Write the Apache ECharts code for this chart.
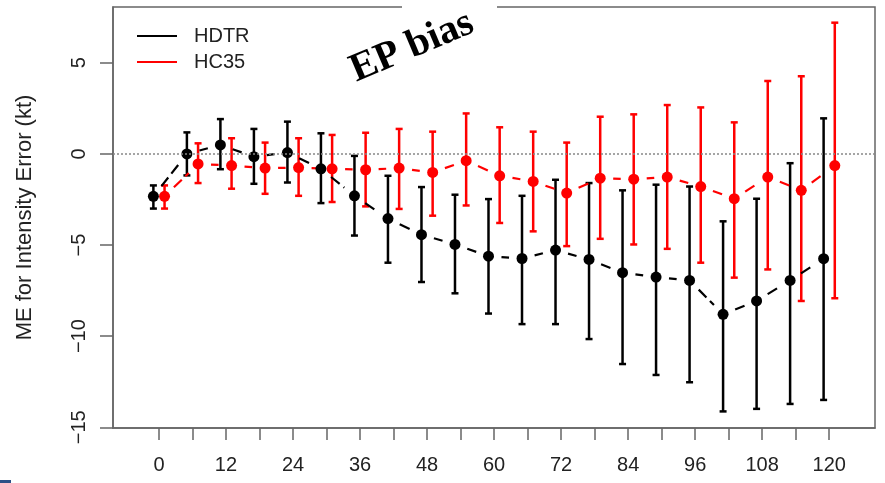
<!doctype html>
<html lang="en">
<head>
<meta charset="utf-8"/>
<title>EP bias</title>
<style>
  html, body { margin: 0; padding: 0; background: #fff; }
  #chart { width: 885px; height: 483px; }
</style>
</head>
<body>
<div id="chart"></div>
<script src="https://cdn.jsdelivr.net/npm/echarts@6/dist/echarts.min.js"></script>
<script>
// forecast lead (h)
const leads = [0, 6, 12, 18, 24, 30, 36, 42, 48, 54, 60, 66, 72, 78, 84, 90, 96, 102, 108, 114, 120];

const hdtrMean = [-2.33, 0.0, 0.49, -0.15, 0.07, -0.82, -2.3, -3.55, -4.43, -4.97, -5.61,
  -5.74, -5.28, -5.79, -6.52, -6.76, -6.94, -8.8, -8.07, -6.94, -5.75];
const hdtrLow = [-3.0, -1.18, -0.84, -1.64, -1.57, -2.7, -4.48, -5.97, -7.03, -7.65, -8.76,
  -9.34, -9.34, -10.16, -11.53, -12.13, -12.53, -14.13, -13.99, -13.72, -13.5];
const hdtrHigh = [-1.73, 1.18, 1.91, 1.37, 1.77, 1.13, -0.11, -1.2, -1.82, -2.24, -2.48,
  -2.3, -1.42, -1.6, -2.0, -1.69, -1.79, -3.7, -2.46, -0.51, 1.95];

const hc35Mean = [-2.33, -0.55, -0.64, -0.78, -0.75, -0.82, -0.87, -0.78, -1.02, -0.37, -1.2,
  -1.51, -2.15, -1.33, -1.39, -1.27, -1.79, -2.46, -1.27, -2.0, -0.64];
const hc35Low = [-3.0, -1.6, -1.91, -2.19, -2.3, -2.64, -2.88, -3.02, -3.39, -2.83, -3.79,
  -4.25, -5.06, -4.66, -4.97, -5.21, -5.97, -6.79, -6.34, -8.07, -7.92];
const hc35High = [-1.73, 0.58, 0.86, 0.62, 0.86, 1.04, 1.16, 1.37, 1.22, 2.22, 1.46,
  1.22, 0.62, 2.04, 2.17, 2.68, 2.55, 1.73, 4.0, 4.26, 7.2];

const xTicks = [0, 6, 12, 18, 24, 30, 36, 42, 48, 54, 60, 66, 72, 78, 84, 90, 96, 102, 108, 114, 120];
const xLabels = [0, 12, 24, 36, 48, 60, 72, 84, 96, 108, 120];
const yTicks = [-15, -10, -5, 0, 5];

const SANS = '"Liberation Sans", Arial, sans-serif';
const AXIS_GREY = '#666';

// the two models are drawn side by side around each lead
const JITTER = 1;

function buildSeries(name, color, shift, mean, low, high) {
  const xs = leads.map(l => l + shift);
  const pts = xs.map((x, i) => [x, mean[i]]);
  const segs = [];
  for (let i = 0; i < pts.length - 1; i++) segs.push([pts[i][0], pts[i][1], pts[i + 1][0], pts[i + 1][1]]);
  const bars = xs.map((x, i) => [x, low[i], high[i]]);
  return [
    {
      // R type="b": dashed segments that stop short of the points
      name, type: 'custom', data: segs, z: 3,
      renderItem(params, api) {
        const a = api.coord([api.value(0), api.value(1)]);
        const b = api.coord([api.value(2), api.value(3)]);
        const dx = b[0] - a[0], dy = b[1] - a[1];
        const len = Math.hypot(dx, dy);
        const gap = 13;
        if (len <= gap * 2) return null;
        const ux = dx / len, uy = dy / len;
        return {
          type: 'line',
          shape: { x1: a[0] + ux * gap, y1: a[1] + uy * gap, x2: b[0] - ux * gap, y2: b[1] - uy * gap },
          style: { stroke: color, lineWidth: 2.2, lineDash: [11, 5] }
        };
      }
    },
    {
      name, type: 'custom', data: bars, z: 2,
      renderItem(params, api) {
        const lo = api.coord([api.value(0), api.value(1)]);
        const hi = api.coord([api.value(0), api.value(2)]);
        const cap = 3.5;
        const st = { stroke: color, lineWidth: 2.5 };
        return {
          type: 'group',
          children: [
            { type: 'line', shape: { x1: lo[0], y1: lo[1], x2: hi[0], y2: hi[1] }, style: st },
            { type: 'line', shape: { x1: lo[0] - cap, y1: lo[1], x2: lo[0] + cap, y2: lo[1] }, style: st },
            { type: 'line', shape: { x1: hi[0] - cap, y1: hi[1], x2: hi[0] + cap, y2: hi[1] }, style: st }
          ]
        };
      }
    },
    {
      name, type: 'scatter', data: pts, z: 4,
      symbol: 'circle', symbolSize: 11,
      itemStyle: { color, opacity: 1 }
    }
  ];
}

const chart = echarts.init(document.getElementById('chart'), null, { renderer: 'canvas' });

chart.setOption({
  animation: false,
  backgroundColor: '#fff',
  textStyle: { fontFamily: SANS },
  grid: {
    left: 113, right: 10, top: 7, bottom: 55,
    show: true, borderColor: AXIS_GREY, borderWidth: 1.5, backgroundColor: 'transparent'
  },
  legend: {
    orient: 'vertical', left: 132, top: 21, itemGap: 6,
    itemWidth: 40, itemHeight: 2,
    textStyle: { fontSize: 20, color: '#222', fontFamily: SANS, lineHeight: 20, padding: [0, 0, 0, 12] },
    data: [
      { name: 'HDTR', icon: 'rect', itemStyle: { color: '#000' } },
      { name: 'HC35', icon: 'rect', itemStyle: { color: '#ff0000' } }
    ],
    selectedMode: false
  },
  xAxis: {
    type: 'value', min: -8.23, max: 128.2,
    axisLine: { show: true, onZero: false, lineStyle: { color: AXIS_GREY, width: 1.5 } },
    axisTick: { show: true, inside: false, length: 12, customValues: xTicks, lineStyle: { color: AXIS_GREY, width: 1.5 } },
    axisLabel: { customValues: xLabels, fontSize: 20, color: '#222', margin: 27 },
    splitLine: { show: false }
  },
  yAxis: {
    type: 'value', min: -15.04, max: 8.06,
    name: 'ME for Intensity Error (kt)', nameLocation: 'middle', nameGap: 77,
    nameTextStyle: { fontSize: 22, color: '#222', fontFamily: SANS },
    axisLine: { show: true, onZero: false, lineStyle: { color: AXIS_GREY, width: 1.5 } },
    axisTick: { show: true, inside: false, length: 13, customValues: yTicks, lineStyle: { color: AXIS_GREY, width: 1.5 } },
    axisLabel: { customValues: yTicks, fontSize: 20, color: '#222', rotate: 90, margin: 24,
      formatter: v => (v < 0 ? '\u2212' + Math.abs(v) : String(v)) },
    splitLine: { show: false }
  },
  series: [
    {
      type: 'line', silent: true, data: [], z: 1,
      markLine: {
        symbol: 'none', silent: true, label: { show: false },
        lineStyle: { color: '#888', type: [2, 2], width: 1.5 },
        data: [{ yAxis: 0 }]
      }
    },
    ...buildSeries('HDTR', '#000000', -JITTER, hdtrMean, hdtrLow, hdtrHigh),
    ...buildSeries('HC35', '#ff0000', JITTER, hc35Mean, hc35Low, hc35High)
  ],
  graphic: [
    { type: 'rect', z: 100, shape: { x: 402, y: 0, width: 95, height: 14 }, style: { fill: '#fff' } },
    {
      type: 'text', z: 101, x: 412, y: 47, rotation: 0.40,
      style: {
        text: 'EP bias', fontFamily: '"Liberation Serif", "Times New Roman", serif',
        fontWeight: 'bold', fontSize: 40, fill: '#000', align: 'center', verticalAlign: 'middle'
      }
    },
    { type: 'rect', z: 100, shape: { x: 0, y: 480, width: 11, height: 3 }, style: { fill: '#2c4f86' } }
  ]
});
</script>
</body>
</html>
